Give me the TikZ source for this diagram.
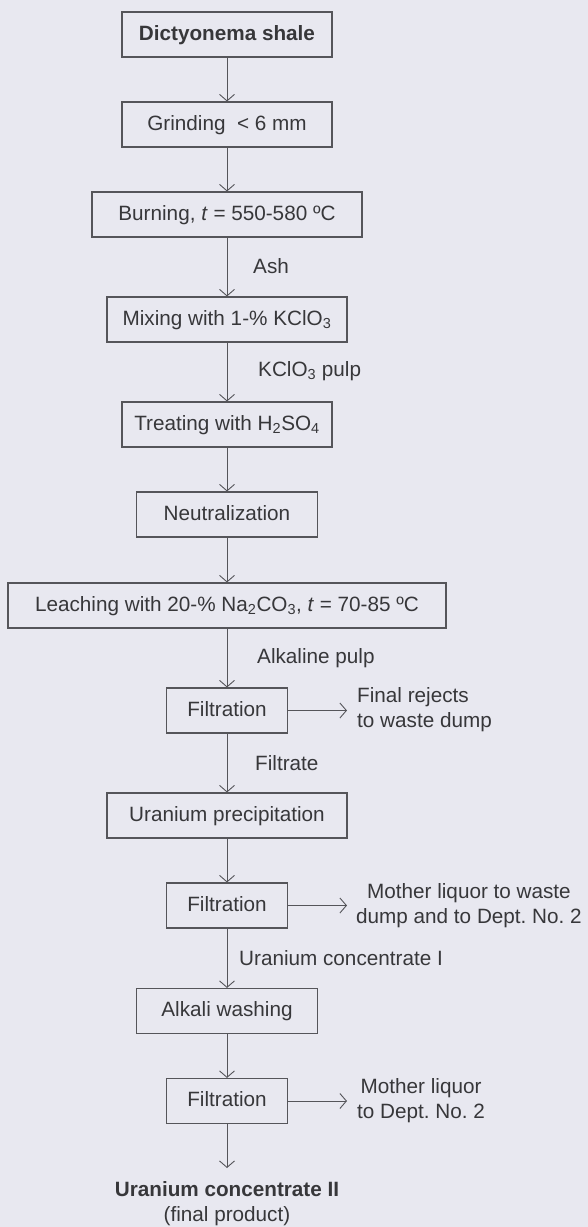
\documentclass[tikz,border=0pt]{standalone}
\usepackage{fontspec}
\setmainfont{Liberation Sans}
\usetikzlibrary{arrows.meta}
\definecolor{bg}{RGB}{232,232,240}
\definecolor{ink}{RGB}{55,55,58}
\definecolor{edge}{RGB}{85,85,90}
\frenchspacing
\begin{document}
\begin{tikzpicture}[x=1pt,y=-1pt,
  every node/.style={text=ink,font=\fontsize{20.7}{25}\selectfont},
  box/.style={draw=edge,line width=1.1pt,minimum height=45pt,inner sep=0pt,text height=15pt,text depth=4pt},
  lbl/.style={anchor=west,inner sep=0pt},
  side/.style={anchor=west,inner sep=0pt},
  arr/.style={draw=edge,line width=0.9pt,-{Straight Barb[length=6.5pt,width=15pt,line width=0.9pt]}}]
\fill[bg] (0,0) rectangle (588,1227);
\useasboundingbox (0,0) rectangle (588,1227);
% boxes
\node[box,minimum width=210pt,font=\bfseries\fontsize{20.7}{25}\selectfont] (A) at (227,34.5) {Dictyonema shale};
\node[box,minimum width=210pt] (B) at (227,124.5) {Grinding \ \textless\ 6 mm};
\node[box,minimum width=270pt] (C) at (227,214.5) {Burning, \textit{t} = 550-580 ºC};
\node[box,minimum width=240pt] (D) at (227,319.5) {Mixing with 1-\% KClO\textsubscript{3}};
\node[box,minimum width=210pt] (E) at (227,424.5) {Treating with H\textsubscript{2}SO\textsubscript{4}};
\node[box,minimum width=181pt] (F) at (227,514.5) {Neutralization};
\node[box,minimum width=438pt] (G) at (227,605.5) {Leaching with 20-\% Na\textsubscript{2}CO\textsubscript{3}, \textit{t} = 70-85 ºC};
\node[box,minimum width=121pt] (H) at (227,710.5) {Filtration};
\node[box,minimum width=240pt] (I) at (227,815.5) {Uranium precipitation};
\node[box,minimum width=121pt] (J) at (227,905.5) {Filtration};
\node[box,minimum width=181pt] (K) at (227,1011) {Alkali washing};
\node[box,minimum width=121pt] (L) at (227,1101) {Filtration};
% final product
\node[inner sep=0pt,align=center,anchor=north] (M) at (227,1181) {\textbf{Uranium concentrate II}\\(final product)};
% flow labels
\node[lbl] (ash) at (253,266) {Ash};
\node[lbl] (kp) at (258,371) {KClO\textsubscript{3} pulp};
\node[lbl] (alk) at (257,658) {Alkaline pulp};
\node[lbl] (filt) at (255,763) {Filtrate};
\node[lbl] (uc1) at (239,958) {Uranium concentrate I};
% side outputs
\node[side,align=left] (r1) at (357,710) {Final rejects\\to waste dump};
\node[side,align=center] (r2) at (356,905.5) {Mother liquor to waste\\dump and to Dept. No. 2};
\node[side,align=center] (r3) at (357,1100.5) {Mother liquor\\to Dept. No. 2};
% connectors
\draw[arr] (A) -- (B);
\draw[arr] (B) -- (C);
\draw[arr] (C) -- (D);
\draw[arr] (D) -- (E);
\draw[arr] (E) -- (F);
\draw[arr] (F) -- (G);
\draw[arr] (G) -- (H);
\draw[arr] (H) -- (I);
\draw[arr] (I) -- (J);
\draw[arr] (J) -- (K);
\draw[arr] (K) -- (L);
\draw[arr,shorten >=13pt] (L) -- (M);
\draw[arr] (H.east) -- ([xshift=-10pt]H.east -| r1.west);
\draw[arr] (J.east) -- ([xshift=-9pt]J.east -| r2.west);
\draw[arr] (L.east) -- ([xshift=-10pt]L.east -| r3.west);
\end{tikzpicture}
\end{document}
